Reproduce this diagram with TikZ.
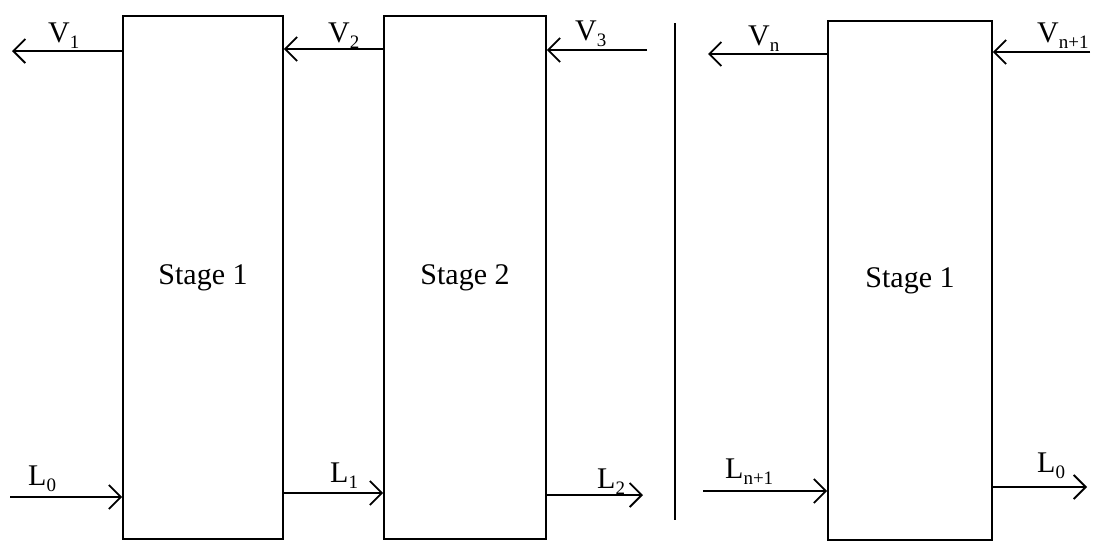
\documentclass[tikz,border=0pt]{standalone}
\usepackage{fontspec}
\setmainfont{Liberation Serif}
\usetikzlibrary{arrows.meta}
\newcommand{\sbs}[1]{\raisebox{-0.22em}{\fontsize{19}{20}\selectfont #1}}
\tikzset{
  stagebox/.style={draw, line width=1.8pt, minimum width=#1, inner sep=0pt},
  flow/.style={line width=1.8pt, -{Straight Barb[length=12pt,width=24pt,line width=1.8pt]}},
  lbl/.style={inner sep=0pt, anchor=base west, font=\fontsize{30}{36}\selectfont},
  big/.style={font=\fontsize{30}{36}\selectfont}
}
\begin{document}
\begin{tikzpicture}[x=1pt,y=-1pt]
\useasboundingbox (0,0) rectangle (1096,542);
% boxes
\node[stagebox=160pt, minimum height=523pt] (b1) at (203,277.5) {};
\node[stagebox=162pt, minimum height=523pt] (b2) at (465,277.5) {};
\node[stagebox=164pt, minimum height=519pt] (b3) at (910,280.5) {};
\node[big] (s1) at (b1.center) {Stage 1};
\node[big] (s2) at (b2.center) {Stage 2};
\node[big] (s3) at (b3.center) {Stage 1};
% separator
\coordinate (sepT) at (675,23);
\coordinate (sepB) at (675,520);
\draw[line width=1.8pt] (sepT) -- (sepB);
% free ends
\coordinate (v1e) at (12,51);
\coordinate (v2y) at (0,49);
\coordinate (v3s) at (647,50);
\coordinate (vne) at (708,54);
\coordinate (vn1s) at (1090,52);
\coordinate (l0s) at (10,497);
\coordinate (l1y) at (0,493);
\coordinate (l2e) at (643,495);
\coordinate (ln1s) at (703,491);
\coordinate (l0e) at (1087,487);
% vapour arrows
\draw[flow] (b1.west |- v1e) -- (v1e);
\draw[flow] (b2.west |- v2y) -- (b1.east |- v2y);
\draw[flow] (v3s) -- (b2.east |- v3s);
\draw[flow] (b3.west |- vne) -- (vne);
\draw[flow] (vn1s) -- (b3.east |- vn1s);
% liquid arrows
\draw[flow] (l0s) -- (b1.west |- l0s);
\draw[flow] (b1.east |- l1y) -- (b2.west |- l1y);
\draw[flow] (b2.east |- l2e) -- (l2e);
\draw[flow] (ln1s) -- (b3.west |- ln1s);
\draw[flow] (b3.east |- l0e) -- (l0e);
% labels
\node[lbl] (tv1) at (48,42) {V\sbs{1}};
\node[lbl] (tv2) at (328,42) {V\sbs{2}};
\node[lbl] (tv3) at (575,40) {V\sbs{3}};
\node[lbl] (tvn) at (748,45) {V\sbs{n}};
\node[lbl] (tvn1) at (1037,42) {V\sbs{n+1}};
\node[lbl] (tl0) at (28,485) {L\sbs{0}};
\node[lbl] (tl1) at (330,482) {L\sbs{1}};
\node[lbl] (tl2) at (597,488) {L\sbs{2}};
\node[lbl] (tln1) at (725,478) {L\sbs{n+1}};
\node[lbl] (tl0b) at (1037,472) {L\sbs{0}};
\end{tikzpicture}
\end{document}
